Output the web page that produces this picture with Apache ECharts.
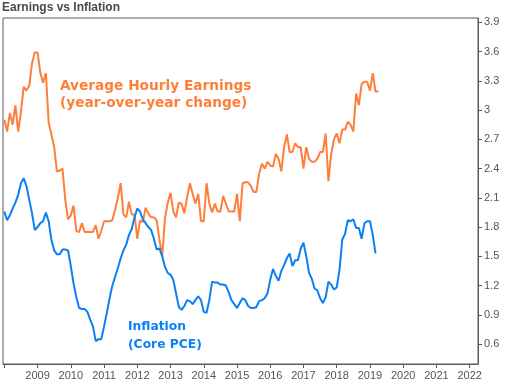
<!DOCTYPE html>
<html><head><meta charset="utf-8">
<script src="https://cdn.jsdelivr.net/npm/echarts@6/dist/echarts.min.js"></script>
<style>html,body{margin:0;padding:0;background:#fff}#c{width:506px;height:383px}</style>
</head><body><div id="c"></div>
<script>
const startYear = 2008;
const earnings = [2.90,2.78,2.97,2.85,3.05,2.78,2.98,3.24,3.20,3.25,3.48,3.59,3.59,3.38,3.28,3.38,2.87,2.75,2.62,2.37,
2.38,2.40,2.08,1.88,1.92,2.02,1.76,1.75,1.84,1.75,1.75,1.75,1.75,1.82,1.68,1.76,1.86,1.86,1.86,1.87,
1.98,2.10,2.25,1.93,1.90,2.06,1.93,1.93,1.68,1.87,1.85,2.00,1.94,1.90,1.90,1.87,1.67,1.50,1.89,2.05,
2.15,1.96,1.90,2.05,2.04,1.94,2.11,2.25,2.14,2.04,2.14,1.86,1.86,2.25,2.04,1.95,2.04,1.96,1.96,2.12,
2.04,1.96,1.96,1.96,2.14,1.86,2.25,2.26,2.26,2.22,2.16,2.16,2.35,2.45,2.40,2.47,2.43,2.42,2.55,2.50,
2.37,2.62,2.75,2.57,2.57,2.66,2.62,2.62,2.40,2.62,2.50,2.47,2.47,2.50,2.57,2.57,2.76,2.27,2.55,2.70,
2.76,2.66,2.80,2.80,2.88,2.85,2.78,3.17,3.05,3.27,3.29,3.29,3.20,3.38,3.19,3.19];
const inflation = [1.96,1.87,1.92,1.99,2.05,2.13,2.25,2.30,2.22,2.08,1.94,1.77,1.80,1.84,1.86,1.95,1.86,1.67,1.56,1.52,
1.52,1.57,1.57,1.56,1.40,1.22,1.08,0.97,0.96,0.96,0.93,0.85,0.78,0.63,0.65,0.65,0.78,0.92,1.07,1.20,
1.29,1.38,1.48,1.56,1.62,1.72,1.78,1.90,1.99,1.96,1.88,1.84,1.80,1.77,1.68,1.57,1.58,1.50,1.39,1.33,
1.31,1.26,1.12,0.98,0.95,0.99,1.05,1.04,1.01,1.05,1.09,1.05,0.93,0.92,1.05,1.24,1.23,1.23,1.21,1.21,
1.20,1.13,1.05,1.01,0.97,1.02,1.07,1.05,0.99,0.97,0.97,0.98,1.04,1.05,1.07,1.12,1.26,1.37,1.30,1.25,
1.35,1.41,1.48,1.53,1.40,1.46,1.46,1.58,1.64,1.50,1.33,1.27,1.17,1.15,1.07,1.02,1.08,1.24,1.21,1.16,
1.18,1.36,1.67,1.73,1.87,1.86,1.88,1.79,1.79,1.68,1.84,1.86,1.86,1.72,1.53];
const xTickYears = [2008,2009,2010,2011,2012,2013,2014,2015,2016,2017,2018,2019,2020,2021,2022];
const xLabelYears = [2009,2010,2011,2012,2013,2014,2015,2016,2017,2018,2019,2020,2021,2022];
const yTicks = [0.6,0.9,1.2,1.5,1.8,2.1,2.4,2.7,3,3.3,3.6,3.9];

const toPairs = arr => arr.map((v,i)=>[startYear + i/12, v]);
const axisColor = '#5a5a5a';
const font = 'Liberation Sans';
const chart = echarts.init(document.getElementById('c'), null, {renderer:'canvas'});
chart.setOption({
  animation:false,
  title:{text:'Earnings vs Inflation', left:2, top:2, padding:0, textStyle:{fontSize:12, fontWeight:'bold', color:'#4a4a4a', fontFamily:font}},
  grid:{left:3, right:28, top:18, bottom:19, show:true, borderColor:axisColor, borderWidth:1},
  xAxis:{type:'value', min:2007.96, max:2022.25,
    axisLine:{show:true, lineStyle:{color:axisColor}},
    axisTick:{show:true, length:4, customValues:xTickYears, lineStyle:{color:axisColor}},
    axisLabel:{customValues:xLabelYears, color:'#555', fontSize:11, fontFamily:font, margin:6, formatter:v=>String(Math.round(v))},
    splitLine:{show:false}},
  yAxis:{type:'value', position:'right', min:0.395, max:3.945,
    axisLine:{show:true, lineStyle:{color:axisColor}},
    axisTick:{show:true, length:4, customValues:yTicks, lineStyle:{color:axisColor}},
    axisLabel:{customValues:yTicks, color:'#555', fontSize:11, fontFamily:font, margin:6, formatter:v=>String(Math.round(v*10)/10)},
    splitLine:{show:false}},
  series:[
    {type:'line', data:toPairs(earnings), showSymbol:false, lineStyle:{color:'#ff7f3a', width:2}, itemStyle:{color:'#ff7f3a'}},
    {type:'line', data:toPairs(inflation), showSymbol:false, lineStyle:{color:'#0a80f5', width:2}, itemStyle:{color:'#0a80f5'}}
  ],
  graphic:[
    {type:'text', left:60, top:78, style:{text:'Average Hourly Earnings\n(year-over-year change)', fill:'#ff7f3a', font:'bold 13.7px "DejaVu Sans"', lineHeight:17}},
    {type:'text', left:128, top:318, style:{text:'Inflation\n(Core PCE)', fill:'#0a80f5', font:'bold 12.3px "DejaVu Sans"', lineHeight:18}}
  ]
});
</script></body></html>
